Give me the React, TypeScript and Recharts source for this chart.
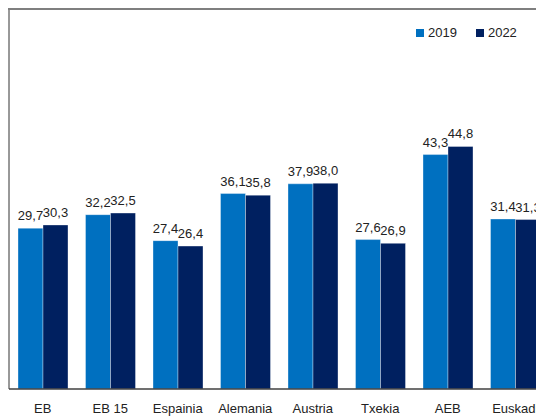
import { BarChart, Bar, XAxis, YAxis, LabelList } from "recharts";

const categories = ["EB", "EB 15", "Espainia", "Alemania", "Austria", "Txekia", "AEB", "Euskadi"];
const values2019 = [29.7, 32.2, 27.4, 36.1, 37.9, 27.6, 43.3, 31.4];
const values2022 = [30.3, 32.5, 26.4, 35.8, 38.0, 26.9, 44.8, 31.3];

const data = categories.map((name, i) => ({
  name,
  y2019: values2019[i],
  y2022: values2022[i],
}));

const FONT = "'Liberation Sans', Arial, sans-serif";
const fmt = (v: any) => Number(v).toFixed(1).replace(".", ",");

const LegendBox = () => (
  <div
    style={{
      position: "absolute",
      top: 17,
      left: 408,
      display: "flex",
      alignItems: "center",
      fontFamily: FONT,
      fontSize: 13,
      color: "#222",
    }}
  >
    <span style={{ width: 8, height: 8, background: "#0070C0", marginRight: 4 }} />
    <span style={{ marginRight: 19 }}>2019</span>
    <span style={{ width: 8, height: 8, background: "#002060", marginRight: 4 }} />
    <span>2022</span>
  </div>
);

const App = () => {
  return (
    <>
      <style>{`html, body { overflow: hidden; } body { margin: 0; padding: 8px 0 0 8px; }`}</style>
      <div style={{ width: 528, height: 411, overflow: "hidden", position: "relative" }}>
        <div style={{ borderTop: "2px solid #7f7f7f", width: 560 }}>
          <BarChart
            width={560}
            height={409}
            data={data}
            margin={{ top: 0, right: 19, bottom: 0, left: 0 }}
            barCategoryGap={9}
            barGap={0}
          >
            <YAxis
              domain={[0, 70]}
              width={1}
              tick={false}
              tickLine={false}
              axisLine={{ stroke: "#333", strokeWidth: 1 }}
            />
            <XAxis
              dataKey="name"
              height={30}
              tickLine={false}
              tickSize={0}
              tickMargin={15}
              interval={0}
              axisLine={{ stroke: "#404040", strokeWidth: 1.5 }}
              tick={{ fontFamily: FONT, fontSize: 13, fill: "#222" }}
            />
            <Bar dataKey="y2019" fill="#0070C0" stroke="rgba(255,255,255,0.35)" isAnimationActive={false}>
              <LabelList dataKey="y2019" position="top" offset={8} formatter={fmt} style={{ fontFamily: FONT, fontSize: 13, fill: "#222" }} />
            </Bar>
            <Bar dataKey="y2022" fill="#002060" stroke="rgba(255,255,255,0.35)" isAnimationActive={false}>
              <LabelList dataKey="y2022" position="top" offset={8} formatter={fmt} style={{ fontFamily: FONT, fontSize: 13, fill: "#222" }} />
            </Bar>
          </BarChart>
        </div>
        <LegendBox />
      </div>
    </>
  );
};

export default App;
